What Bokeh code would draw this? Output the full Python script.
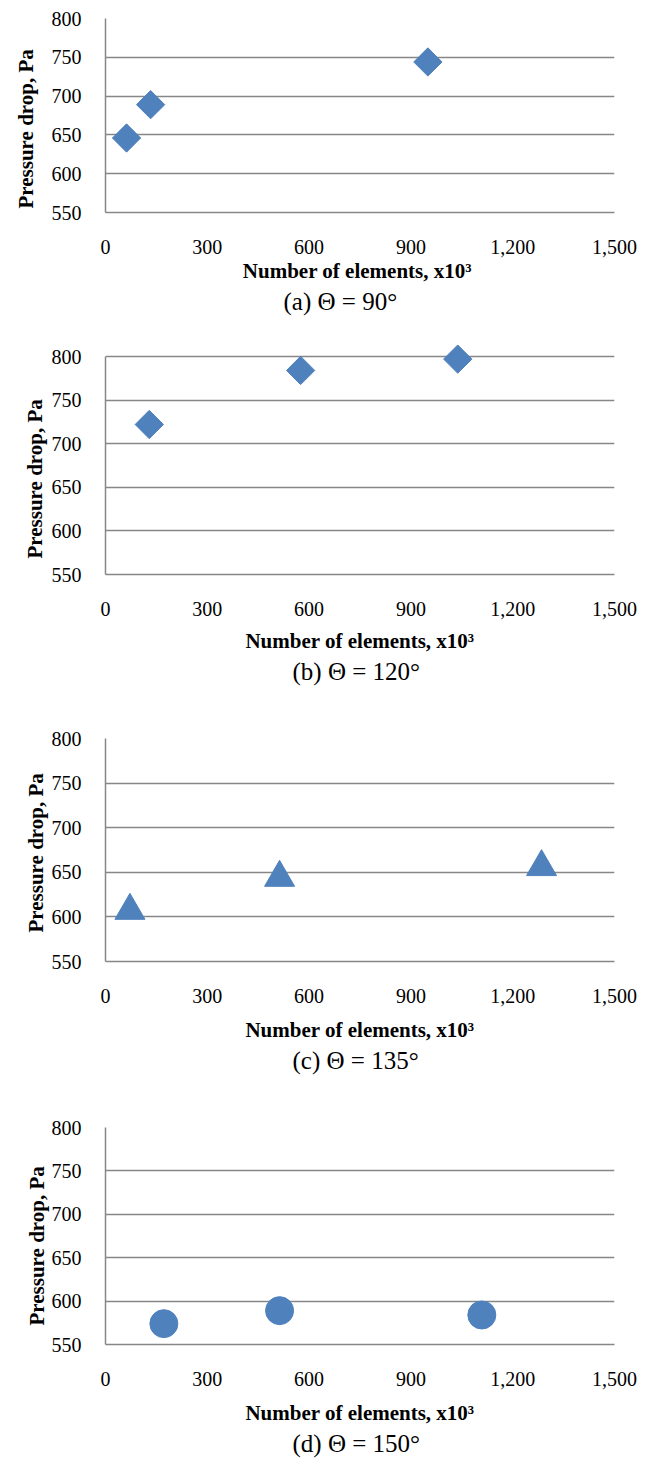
import math
from bokeh.plotting import figure
from bokeh.layouts import column
from bokeh.models import Range1d, NumeralTickFormatter, Title
from bokeh.embed import file_html
from bokeh.resources import INLINE

# ---------------- data ----------------
x_ticks = [0, 300, 600, 900, 1200, 1500]
y_ticks = [550, 600, 650, 700, 750, 800]

elements_a = [62, 133, 950]
pressure_a = [646, 689, 744]

elements_b = [129, 575, 1038]
pressure_b = [722, 784, 797]

elements_c = [72, 513, 1285]
pressure_c = [607, 644, 656]

elements_d = [172, 513, 1109]
pressure_d = [574, 589, 584]

captions = ["(a) Θ = 90°", "(b) Θ = 120°", "(c) Θ = 135°", "(d) Θ = 150°"]
x_titles = ["Number of elements,  x10³", "Number of elements, x10³",
            "Number of elements, x10³", "Number of elements, x10³"]
y_title = "Pressure drop, Pa"

# ---------------- style ----------------
FONT = "Liberation Serif"
BLUE = "#4F81BD"
GRID = "#878787"
FIG_W = 655
LEFT = 105     # frames of a column are aligned, so one common border
RIGHT = 41

panels = [
    dict(xs=elements_a, ys=pressure_a, marker="square", size=20, angle=math.pi / 4,
         height=326, top=18, bottom=114, pad_top=0,
         ylab_offset=4, ylab_valign="top", ylab_standoff=17,
         xlab_standoff=2, cap_offset=178),
    dict(xs=elements_b, ys=pressure_b, marker="square", size=20, angle=math.pi / 4,
         height=380, top=30, bottom=132, pad_top=14,
         ylab_offset=16, ylab_valign="top", ylab_standoff=0,
         xlab_standoff=10, cap_offset=187),
    dict(xs=elements_c, ys=pressure_c, marker="triangle", size=30, angle=0.0,
         height=389, top=32, bottom=134, pad_top=0,
         ylab_offset=29, ylab_valign="middle", ylab_standoff=0,
         xlab_standoff=12, cap_offset=187),
    dict(xs=elements_d, ys=pressure_d, marker="circle", size=28, angle=0.0,
         height=364, top=32, bottom=115, pad_top=0,
         ylab_offset=19, ylab_valign="bottom", ylab_standoff=0,
         xlab_standoff=12, cap_offset=187),
]


def make_panel(i, cfg):
    core_h = cfg["height"] - cfg["top"] - cfg["bottom"]
    y_end = 800 + cfg["pad_top"] * 250.0 / core_h
    p = figure(width=FIG_W, height=cfg["height"], output_backend="svg",
               toolbar_location=None, x_range=Range1d(0, 1500),
               y_range=Range1d(550, y_end),
               min_border_left=LEFT, min_border_right=RIGHT,
               min_border_top=cfg["top"] - cfg["pad_top"],
               min_border_bottom=cfg["bottom"])
    p.outline_line_color = None
    p.background_fill_color = "white"
    p.border_fill_color = "white"

    p.scatter(cfg["xs"], cfg["ys"], marker=cfg["marker"], size=cfg["size"],
              angle=cfg["angle"], fill_color=BLUE, line_color=BLUE)

    p.xgrid.visible = False
    p.ygrid.grid_line_color = GRID
    p.ygrid.grid_line_width = 1.5

    p.xaxis.ticker = x_ticks
    p.yaxis.ticker = y_ticks
    p.xaxis.formatter = NumeralTickFormatter(format="0,0")
    p.yaxis.bounds = (550, 800)

    for ax in (p.xaxis[0], p.yaxis[0]):
        ax.axis_line_color = GRID
        ax.axis_line_width = 1.5
        ax.major_tick_line_color = None
        ax.minor_tick_line_color = None
        ax.major_tick_out = 0
        ax.major_tick_in = 0
        ax.major_label_text_font = FONT
        ax.major_label_text_font_size = "20px"
        ax.major_label_text_color = "black"
        ax.axis_label_text_font = FONT
        ax.axis_label_text_font_size = "21px"
        ax.axis_label_text_font_style = "bold"
        ax.axis_label_text_color = "black"

    p.xaxis.major_label_standoff = 27
    p.yaxis.major_label_standoff = 24
    p.xaxis.axis_label = x_titles[i]
    p.xaxis.axis_label_standoff = cfg["xlab_standoff"]

    # y-axis title as a side title, shifted along the axis like the original
    ylab = Title(text=y_title, align="left", offset=cfg["ylab_offset"],
                 vertical_align=cfg["ylab_valign"], standoff=cfg["ylab_standoff"],
                 text_font=FONT, text_font_size="21px", text_font_style="bold",
                 text_color="black")
    p.add_layout(ylab, "left")

    cap = Title(text=captions[i], align="left", offset=cfg["cap_offset"],
                text_font=FONT, text_font_size="25px", text_font_style="normal",
                text_color="black", standoff=0)
    p.add_layout(cap, "below")
    return p


figs = [make_panel(i, cfg) for i, cfg in enumerate(panels)]
layout = column(*figs)

open("out.html", "w").write(file_html(layout, INLINE))
